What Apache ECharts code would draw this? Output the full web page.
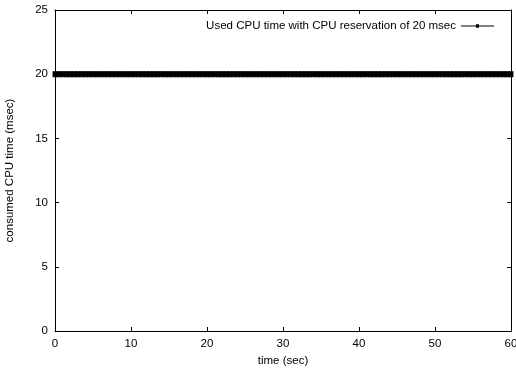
<!DOCTYPE html>
<html><head><meta charset="utf-8">
<script src="https://cdn.jsdelivr.net/npm/echarts@6/dist/echarts.min.js"></script>
<style>html,body{margin:0;padding:0;background:#fff}#c{width:516px;height:368px}</style>
</head><body><div id="c"></div>
<script>
const seriesName = 'Used CPU time with CPU reservation of 20 msec';
const timeSec = [0,0.5,1,1.5,2,2.5,3,3.5,4,4.5,5,5.5,6,6.5,7,7.5,8,8.5,9,9.5,10,10.5,11,11.5,12,12.5,13,13.5,14,14.5,15,15.5,16,16.5,17,17.5,18,18.5,19,19.5,20,20.5,21,21.5,22,22.5,23,23.5,24,24.5,25,25.5,26,26.5,27,27.5,28,28.5,29,29.5,30,30.5,31,31.5,32,32.5,33,33.5,34,34.5,35,35.5,36,36.5,37,37.5,38,38.5,39,39.5,40,40.5,41,41.5,42,42.5,43,43.5,44,44.5,45,45.5,46,46.5,47,47.5,48,48.5,49,49.5,50,50.5,51,51.5,52,52.5,53,53.5,54,54.5,55,55.5,56,56.5,57,57.5,58,58.5,59,59.5,60];
const cpuMsec = [20,20,20,20,20,20,20,20,20,20,20,20,20,20,20,20,20,20,20,20,20,20,20,20,20,20,20,20,20,20,20,20,20,20,20,20,20,20,20,20,20,20,20,20,20,20,20,20,20,20,20,20,20,20,20,20,20,20,20,20,20,20,20,20,20,20,20,20,20,20,20,20,20,20,20,20,20,20,20,20,20,20,20,20,20,20,20,20,20,20,20,20,20,20,20,20,20,20,20,20,20,20,20,20,20,20,20,20,20,20,20,20,20,20,20,20,20,20,20,20,20];
const xTicks = {min: 0, max: 60, interval: 10};
const yTicks = {min: 0, max: 25, interval: 5};

const font = 'Liberation Sans, Arial, Helvetica, sans-serif';
const fs = 11.5;
const chart = echarts.init(document.getElementById('c'), null, {renderer: 'canvas'});
function axisBase() {
  return {
    axisLine: {show: true, onZero: false, lineStyle: {color: '#000', width: 1}},
    axisTick: {show: true, inside: true, length: 4, lineStyle: {color: '#000', width: 1}},
    splitLine: {show: false},
    axisLabel: {color: '#000', fontSize: fs, fontFamily: font, margin: 7}
  };
}
chart.setOption({
  animation: false,
  backgroundColor: '#fff',
  grid: {left: 55, right: 5, top: 10, bottom: 37, containLabel: false, outerBoundsMode: 'none'},
  legend: {
    show: true, right: 17, top: 15, align: 'right',
    itemWidth: 33, itemHeight: 5, itemGap: 7,
    itemStyle: {borderWidth: 0, color: '#000'},
    textStyle: {color: '#000', fontSize: fs, fontFamily: font},
    data: [{name: seriesName, icon: 'path://M0,2H33V3H0Z M15,0.8H18V4.2H15Z'}]
  },
  xAxis: [
    Object.assign(axisBase(), {type: 'value', position: 'bottom', min: xTicks.min, max: xTicks.max, interval: xTicks.interval,
      name: 'time (sec)', nameLocation: 'middle', nameGap: 21, nameTextStyle: {color: '#000', fontSize: fs, fontFamily: font}}),
    Object.assign(axisBase(), {type: 'value', position: 'top', min: xTicks.min, max: xTicks.max, interval: xTicks.interval,
      axisLabel: {show: false}})
  ],
  yAxis: [
    Object.assign(axisBase(), {type: 'value', position: 'left', min: yTicks.min, max: yTicks.max, interval: yTicks.interval,
      name: 'consumed CPU time (msec)', nameLocation: 'middle', nameGap: 39, nameRotate: 90,
      nameTextStyle: {color: '#000', fontSize: fs, fontFamily: font}}),
    Object.assign(axisBase(), {type: 'value', position: 'right', min: yTicks.min, max: yTicks.max, interval: yTicks.interval,
      axisLabel: {show: false}})
  ],
  series: [{
    name: seriesName,
    type: 'line',
    data: timeSec.map((t, i) => [t, cpuMsec[i]]),
    showSymbol: true,
    showAllSymbol: true,
    symbol: 'rect',
    symbolSize: [4, 5],
    itemStyle: {color: '#000', borderColor: '#000', borderWidth: 1},
    lineStyle: {color: '#000', width: 1},
    clip: false
  }]
});
</script></body></html>
